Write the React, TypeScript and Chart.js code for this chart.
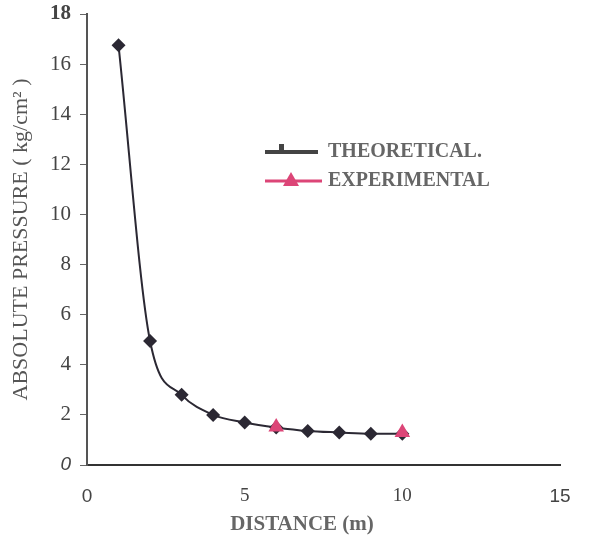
import React, { useEffect, useRef } from "react";
import { Chart, registerables } from "chart.js";

Chart.register(...registerables);

const distance = [1, 2, 3, 4, 5, 6, 7, 8, 9, 10];
const theoretical = [16.75, 4.95, 2.8, 2.0, 1.7, 1.5, 1.36, 1.3, 1.25, 1.25];
const expDistance = [6, 10];
const experimental = [1.52, 1.3];
const xTitle = "DISTANCE (m)";
const yTitle = "ABSOLUTE PRESSURE ( kg/cm\u00B2 )";
const legendLabels = ["THEORETICAL.", "EXPERIMENTAL"];

const DARK = "#2b2833";
const PINK = "#dc4577";
const GRAY = "#666666";

const legendPlugin = {
  id: "inLegend",
  afterDraw(chart: any) {
    const ctx = chart.ctx;
    ctx.save();
    // theoretical
    ctx.strokeStyle = "#444";
    ctx.lineWidth = 4;
    ctx.beginPath();
    ctx.moveTo(265, 152);
    ctx.lineTo(318, 152);
    ctx.stroke();
    ctx.fillStyle = "#444";
    ctx.fillRect(279, 144, 5, 10);
    // experimental
    ctx.strokeStyle = PINK;
    ctx.lineWidth = 3;
    ctx.beginPath();
    ctx.moveTo(265, 181);
    ctx.lineTo(322, 181);
    ctx.stroke();
    ctx.fillStyle = PINK;
    ctx.beginPath();
    ctx.moveTo(291, 172);
    ctx.lineTo(299, 186);
    ctx.lineTo(283, 186);
    ctx.closePath();
    ctx.fill();
    ctx.fillStyle = GRAY;
    ctx.font = "bold 20px 'Liberation Serif', serif";
    ctx.textBaseline = "middle";
    ctx.textAlign = "left";
    ctx.fillText(legendLabels[0], 328, 152);
    ctx.fillText(legendLabels[1], 328, 181);
    // x axis title
    ctx.font = "bold 21px 'Liberation Serif', serif";
    ctx.textAlign = "center";
    ctx.fillText(xTitle, 302, 525);
    ctx.restore();
  },
};

export default function App() {
  const ref = useRef<HTMLCanvasElement>(null);
  useEffect(() => {
    document.body.style.margin = "0";
    const chart = new Chart(ref.current as HTMLCanvasElement, {
      type: "line",
      data: {
        datasets: [
          {
            label: legendLabels[0],
            data: distance.map((x, i) => ({ x, y: theoretical[i] })),
            borderColor: DARK,
            backgroundColor: DARK,
            borderWidth: 2,
            pointStyle: "rectRot",
            pointRadius: 7,
            pointBorderWidth: 0,
            cubicInterpolationMode: "monotone",
            order: 2,
          },
          {
            label: legendLabels[1],
            data: expDistance.map((x, i) => ({ x, y: experimental[i] })),
            borderColor: PINK,
            backgroundColor: PINK,
            showLine: false,
            pointStyle: "triangle",
            pointRadius: 9,
            pointBorderWidth: 0,
            order: 1,
          },
        ],
      },
      options: {
        animation: false,
        responsive: false,
        layout: { padding: { top: 14, right: 30, left: 0, bottom: 0 } },
        plugins: { legend: { display: false }, tooltip: { enabled: false } },
        scales: {
          x: {
            type: "linear",
            min: 0,
            max: 15,
            ticks: {
              stepSize: 5,
              padding: 20,
              color: "#444",
              font: (c: any) => {
                const v = c.tick ? c.tick.value : 5;
                const sans = v === 0 || v === 15;
                return {
                  size: 19,
                  family: sans ? "'Liberation Sans', sans-serif" : "'Liberation Serif', serif",
                };
              },
            },
            grid: { display: true, drawOnChartArea: false, drawTicks: false },
            border: { display: true, color: "#333", width: 2 },
            afterFit: (s: any) => {
              s.height = 82;
              s.paddingLeft = 0;
              s.paddingRight = 0;
            },
          },
          y: {
            min: 0,
            max: 18,
            ticks: {
              stepSize: 2,
              padding: 9,
              color: "#444",
              font: (c: any) => {
                const v = c.tick ? c.tick.value : 2;
                if (v === 0) return { size: 19, style: "italic", family: "'Liberation Sans', sans-serif" };
                return {
                  size: 21,
                  family: "'Liberation Serif', serif",
                  weight: v === 18 ? "bold" : "normal",
                };
              },
            },
            grid: { display: true, drawOnChartArea: false, drawTicks: true, tickLength: 7, color: "#666" },
            border: { display: true, color: "#555", width: 2 },
            title: {
              display: true,
              text: yTitle,
              color: "#555",
              font: { family: "'Liberation Serif', serif", size: 22 },
              padding: { top: 8, bottom: 0 },
            },
            afterFit: (s: any) => {
              s.width = 87;
              s.paddingTop = 0;
              s.paddingBottom = 0;
            },
          },
        },
      },
      plugins: [legendPlugin],
    } as any);
    return () => chart.destroy();
  }, []);
  return <canvas ref={ref} width={590} height={547} style={{ display: "block" }} />;
}
